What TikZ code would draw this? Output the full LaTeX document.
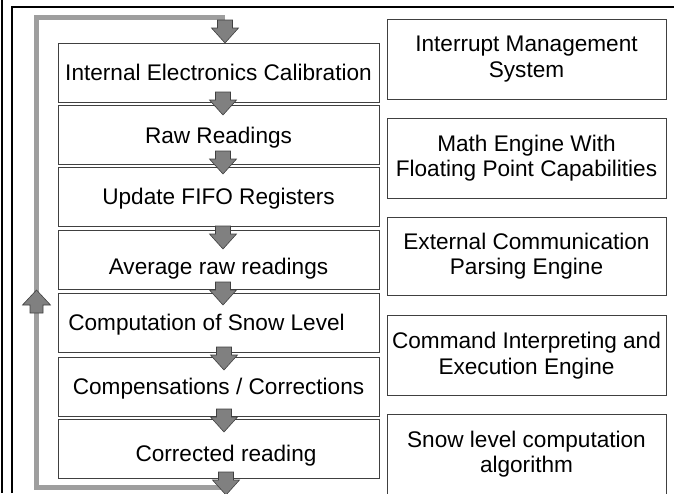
\documentclass[tikz,border=0pt]{standalone}
\usepackage{fontspec}
\setmainfont{Liberation Sans}

% block arrow pointing down, top centre at (#1,#2)
\newcommand{\blockdown}[2]{\draw[blk] (#1,#2) ++(-7.5,0) -- ++(15,0) -- ++(0,8) -- ++(6,0) -- ++(-13.5,15) -- ++(-13.5,-15) -- ++(6,0) -- cycle;}

\begin{document}
\begin{tikzpicture}[x=1pt, y=-1pt,
    every node/.style={font=\fontsize{22.6}{25.5}\selectfont},
    stage/.style={draw=black!75, line width=0.8pt, minimum width=321pt, minimum height=59pt, inner sep=0pt, text height=16pt, text depth=0pt},
    module/.style={draw=black!75, line width=0.8pt, minimum width=279pt, minimum height=80pt, inner sep=2pt, align=center},
    blk/.style={draw=black!75, fill=black!50, line width=0.6pt},
    frame/.style={draw=black, line width=1.3pt},
    cycleline/.style={draw=black!38, line width=4.5pt}]
    \clip (0,0) rectangle (674,493);

    \draw[frame] (2,0) -- (2,493);
    \draw[frame] (12,493) -- (12,7) -- (674,7);

    % measurement chain
    \node[stage] (s1) at (218.5,72.5) {Internal Electronics Calibration};
    \node[stage] (s2) at (218.5,135) {Raw Readings};
    \node[stage] (s3) at (218.5,196.5) {Update FIFO Registers};
    \node[stage, text height=30pt] (s4) at (218.5,259.5) {Average raw readings};
    \node[stage] (s5) at (218.5,322.5) {Computation of Snow Level\hspace*{24pt}};
    \node[stage] (s6) at (218.5,386.5) {Compensations / Corrections};
    \node[stage, text height=25pt] (s7) at (218.5,448.5) {\hspace*{15pt}Corrected reading};

    % firmware modules
    \node[module] (m1) at (526.5,59) {Interrupt Management\\System};
    \node[module] (m2) at (526.5,158) {Math Engine With\\Floating Point Capabilities};
    \node[module, minimum height=78pt] (m3) at (526.5,256) {External Communication\\Parsing Engine};
    \node[module] (m4) at (526.5,355.5) {Command Interpreting and\\Execution Engine};
    \node[module] (m5) at (526.5,454) {Snow level computation\\algorithm};

    % loop back
    \draw[cycleline] (225,17.5) -- (36.5,17.5) -- (36.5,487.5) -- (226,487.5);
    \draw[blk] (36.5,313) ++(-6.5,0) -- ++(13,0) -- ++(0,-8) -- ++(7.5,0) -- ++(-14,-15) -- ++(-14,15) -- ++(7.5,0) -- cycle;

    \blockdown{225}{20}
    \blockdown{223}{92}
    \blockdown{223}{151}
    \blockdown{223}{226}
    \blockdown{223}{282}
    \blockdown{224}{347}
    \blockdown{224}{409}
    \blockdown{226}{472}
\end{tikzpicture}
\end{document}
